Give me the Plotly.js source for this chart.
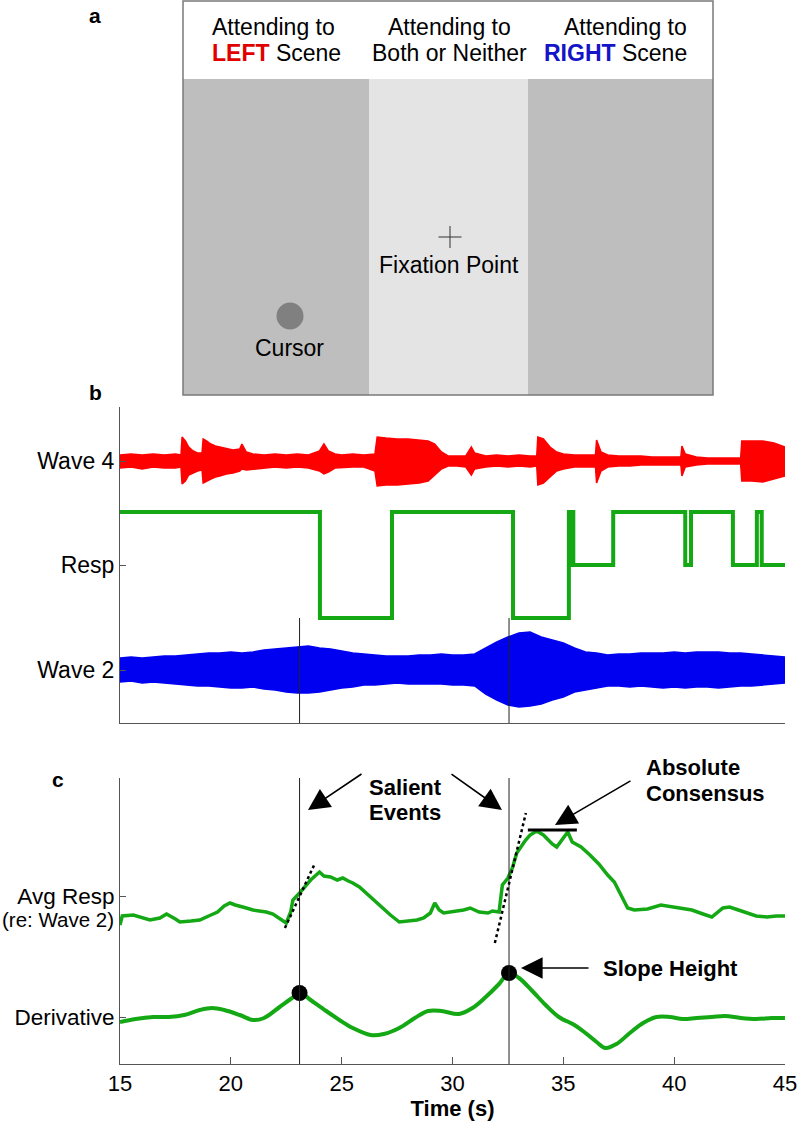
<!DOCTYPE html>
<html>
<head>
<meta charset="utf-8">
<script src="https://cdn.plot.ly/plotly-3.0.1.min.js"></script>
<style>html,body{margin:0;padding:0;background:#fff;}#chart{width:800px;height:1123px;}</style>
</head>
<body>
<div id="chart"></div>
<script>
// ---------------- DATA ----------------
// Wave 4 (red) envelope: time (s), upper and lower excursion (arbitrary units)
const wave4Time  = [15,15.5,16,16.5,17,17.5,17.75,17.8,17.95,18.1,18.3,18.5,18.7,18.75,18.9,19.1,19.3,19.5,19.8,20.1,20.4,20.5,20.7,21,21.5,22,22.5,23,23.5,24,24.2,24.4,24.7,25,25.5,26,26.5,26.6,27,27.5,28,28.5,28.9,29.2,29.5,29.8,30.2,30.6,30.85,31,31.5,32,32.5,33,33.5,33.8,33.85,34.1,34.4,34.7,35,35.5,36,36.45,36.5,36.7,37,37.5,38,38.5,39,39.5,40,40.3,40.35,40.5,41,41.5,42,42.5,43,43.05,43.5,44,44.5,45];
const wave4Upper = [6,7,6,7,6,7,6,24,20,14,10,8,8,22,20,17,15,14,12,11,12,17,9,7,6,7,6,7,6,10,17,10,7,6,7,6,7,24,23,22,22,21,20,17,9,5,5,5,14,8,5,6,5,6,5,5,24,22,14,9,7,6,6,6,21,9,6,5,5,5,4,4,4,4,15,7,4,3,3,3,3,20,20,20,18,14];
const wave4Lower = [-7,-6,-8,-6,-7,-7,-6,-23,-20,-14,-12,-10,-9,-22,-20,-18,-16,-15,-13,-12,-10,-8,-9,-8,-7,-6,-7,-6,-7,-10,-13,-11,-7,-7,-6,-6,-10,-25,-24,-24,-23,-22,-20,-14,-8,-5,-5,-6,-14,-8,-6,-5,-6,-5,-6,-5,-24,-22,-16,-10,-8,-6,-6,-6,-22,-10,-6,-5,-5,-4,-4,-4,-4,-4,-15,-6,-4,-3,-3,-3,-3,-20,-20,-21,-18,-15];

// Wave 2 (blue) envelope
const wave2Time  = [15,15.5,16,16.5,17,17.5,18,18.5,19,19.5,20,20.5,21,21.5,22,22.5,23,23.5,24,24.5,25,25.5,26,26.5,27,27.5,28,28.5,29,29.5,30,30.5,31,31.5,32,32.5,33,33.5,34,34.5,35,35.5,36,36.5,37,37.5,38,38.5,39,39.5,40,40.5,41,41.5,42,42.5,43,43.5,44,44.5,45];
const wave2Upper = [12,13,12,13,14,14,15,16,17,17,18,17,18,20,21,22,23,24,22,21,19,17,16,15,14,14,14,15,15,16,15,15,16,22,28,33,37,38,33,30,27,22,18,17,15,16,16,17,17,17,18,17,18,18,18,17,17,16,15,14,13];
const wave2Lower = [-12,-11,-13,-12,-13,-14,-15,-16,-16,-17,-18,-18,-17,-19,-20,-22,-23,-23,-22,-20,-18,-17,-15,-15,-14,-13,-14,-14,-14,-14,-15,-15,-16,-24,-30,-35,-37,-36,-34,-30,-27,-22,-20,-18,-16,-16,-17,-16,-17,-18,-17,-18,-17,-17,-18,-17,-16,-16,-15,-14,-13];

// Resp (green step): 1 = left, 0 = both/neither, -1 = right
const respTime  = [15,24.02,27.27,32.73,35.25,35.33,35.38,35.45,37.25,40.5,40.76,42.65,43.73,43.95,45];
const respLevel = [1,-1,1,-1,1,0,1,0,1,0,1,0,1,0,0];

// Avg Resp (re: Wave 2)
const avgTime  = [15,15.1,15.6,16,16.35,16.8,17.1,17.5,17.7,18.2,18.6,19,19.4,19.7,19.96,20.2,20.4,20.7,21,21.3,21.6,21.9,22.2,22.5,22.7,22.8,23.1,23.4,23.6,23.8,24,24.2,24.5,24.8,25.05,25.3,25.5,25.8,26.1,26.5,26.9,27.2,27.6,28,28.4,28.7,29,29.2,29.4,29.6,30,30.5,30.8,31.2,31.6,31.8,32.1,32.25,32.5,32.7,32.9,33.1,33.3,33.5,33.8,34.1,34.5,34.7,35,35.2,35.4,35.8,36.2,36.6,37,37.3,37.6,37.9,38.2,38.8,39.4,39.9,40.3,40.8,41.3,41.7,42.2,42.5,42.9,43.3,43.7,44.2,44.6,45];
const avgValue = [-29,-20,-19,-22,-24,-22,-18,-23,-26,-25,-24,-20,-16,-10,-7,-9,-10,-12,-14,-15,-16,-18,-22,-27,-16,-4,3,11,16,20,24,20,19,16,18,15,13,9,3,-6,-14,-19,-26,-25,-24,-22,-17,-7,-14,-17,-16,-14,-12,-16,-17,-15,-16,11,18,28,43,50,56,61,65,61,52,49,58,64,54,49,41,32,21,14,1,-12,-14,-13,-9,-11,-12,-14,-18,-21,-12,-11,-14,-17,-20,-21,-20,-20];

// Derivative
const derTime  = [15,15.7,16.5,17.2,17.9,18.6,19.15,19.7,20.4,21,21.5,22.2,22.7,23.15,23.6,24.3,24.9,25.5,26.3,26.9,27.6,28.3,28.9,29.5,30.3,30.9,31.5,32.1,32.55,33,33.6,34.2,34.8,35.5,36,36.5,36.9,37.4,38,38.6,39.2,39.8,40.4,41,41.7,42.3,43,43.7,44.4,45];
const derValue = [-5,-2,0,0,2,7,9,7,2,-3,-1,10,18,24,17,6,-3,-11,-18,-17,-11,-1,6,6,3,9,20,33,44,39,26,12,0,-8,-16,-25,-31,-27,-16,-6,0,0,-2,-1,0,1,-1,-2,-1,-1];

// Salient events and slope heights
const eventTime   = [23.1, 32.55];
const slopeHeight = [24, 44];
// Tangent (slope) segments on Avg Resp: [t0, v0, t1, v1]
const tangents = [[22.44,-32,23.8,33],[31.91,-47,33.31,83]];
// Absolute consensus plateau
const consensus = {t0:33.4, t1:35.61, v:66};

// Tick labels
const panelBTicks = ['Wave 4','Resp','Wave 2'];
const panelCTicks = ['Avg Resp','Derivative'];
const timeTicks = [15,20,25,30,35,40,45];

// ---------------- LAYOUT HELPERS ----------------
const W = 800, H = 1123;
const px = x => x / W;
const py = y => 1 - y / H;
const F = 'Liberation Sans, Arial, Helvetica, sans-serif';
const GREEN = '#14a814', RED = '#ff0000', BLUE = '#0000f0';

// vertical placement inside panels (axis units)
const W4_C = 262, RESP_C = 158, RESP_S = 53, W2_C = 53;
const AVG_C = 168, DER_C = 47;

const poly = (t, up, lo, c) => ({
  x: t.concat(t.slice().reverse()),
  y: up.map(v => c + v).concat(lo.slice().reverse().map(v => c + v))
});

const w4 = poly(wave4Time, wave4Upper, wave4Lower, W4_C);
const w2 = poly(wave2Time, wave2Upper, wave2Lower, W2_C);

const traces = [
  {x: w4.x, y: w4.y, xaxis:'x', yaxis:'y', type:'scatter', mode:'lines', fill:'toself',
   fillcolor: RED, line:{color:RED, width:1.5}, hoverinfo:'skip'},
  {x: w2.x, y: w2.y, xaxis:'x', yaxis:'y', type:'scatter', mode:'lines', fill:'toself',
   fillcolor: BLUE, line:{color:BLUE, width:1.5}, hoverinfo:'skip'},
  {x: respTime, y: respLevel.map(v => RESP_C + v * RESP_S), xaxis:'x', yaxis:'y', type:'scatter',
   mode:'lines', line:{color:GREEN, width:4, shape:'hv'}},
  {x: avgTime, y: avgValue.map(v => AVG_C + v), xaxis:'x2', yaxis:'y2', type:'scatter',
   mode:'lines', line:{color:GREEN, width:3.5}},
  {x: derTime, y: derValue.map(v => DER_C + v), xaxis:'x2', yaxis:'y2', type:'scatter',
   mode:'lines', line:{color:GREEN, width:4, shape:'spline', smoothing:1}},
  {x: eventTime, y: slopeHeight.map(v => DER_C + v), xaxis:'x2', yaxis:'y2', type:'scatter',
   mode:'markers', marker:{color:'#000', size:16}}
];

const shapes = [];
// ---- Panel a schematic ----
shapes.push({type:'rect', xref:'paper', yref:'paper', x0:px(183), x1:px(369), y0:py(395), y1:py(79), fillcolor:'#bebebe', line:{width:0}, layer:'below'});
shapes.push({type:'rect', xref:'paper', yref:'paper', x0:px(369), x1:px(528), y0:py(395), y1:py(79), fillcolor:'#e4e4e4', line:{width:0}, layer:'below'});
shapes.push({type:'rect', xref:'paper', yref:'paper', x0:px(528), x1:px(713), y0:py(395), y1:py(79), fillcolor:'#bebebe', line:{width:0}, layer:'below'});
shapes.push({type:'rect', xref:'paper', yref:'paper', x0:px(183), x1:px(713), y0:py(395), y1:py(1), line:{color:'#7a7a7a', width:1.5}});
shapes.push({type:'line', xref:'paper', yref:'paper', x0:px(438.5), x1:px(461.5), y0:py(237), y1:py(237), line:{color:'#333', width:1}});
shapes.push({type:'line', xref:'paper', yref:'paper', x0:px(450), x1:px(450), y0:py(226), y1:py(248), line:{color:'#333', width:1}});
shapes.push({type:'circle', xref:'paper', yref:'paper', x0:px(276.5), x1:px(303.5), y0:py(329.5), y1:py(302.5), fillcolor:'#808080', line:{width:0}});
// ---- event lines ----
eventTime.forEach(t => {
  shapes.push({type:'line', xref:'x', yref:'y', x0:t, x1:t, y0:0, y1:RESP_C - RESP_S, line:{color:'#222', width:1}});
  shapes.push({type:'line', xref:'x2', yref:'y2', x0:t, x1:t, y0:0, y1:286, line:{color:'#222', width:1}});
});
// ---- tangents ----
tangents.forEach(s => {
  shapes.push({type:'line', xref:'x2', yref:'y2', x0:s[0], y0:AVG_C + s[1], x1:s[2], y1:AVG_C + s[3], line:{color:'#000', width:2.5, dash:'dot'}});
});
// ---- absolute consensus ----
shapes.push({type:'line', xref:'x2', yref:'y2', x0:consensus.t0, x1:consensus.t1, y0:AVG_C + consensus.v, y1:AVG_C + consensus.v, line:{color:'#000', width:3}});

const txt = (x, y, text, o) => Object.assign({xref:'paper', yref:'paper', x:px(x), y:py(y), text:text,
  showarrow:false, xanchor:'center', yanchor:'middle', font:{family:F, size:23, color:'#000'}}, o || {});
const arrow = (tx, ty, sx, sy) => ({xref:'paper', yref:'paper', x:px(tx), y:py(ty), ax:sx - tx, ay:sy - ty,
  axref:'pixel', ayref:'pixel', text:'', showarrow:true, arrowhead:2, arrowsize:2.7, arrowwidth:1.6, arrowcolor:'#000'});

const annotations = [
  txt(95, 15, '<b>a</b>', {font:{family:F, size:21, color:'#000'}}),
  txt(95, 393, '<b>b</b>', {font:{family:F, size:21, color:'#000'}}),
  txt(58, 779, '<b>c</b>', {font:{family:F, size:21, color:'#000'}}),
  txt(210, 27, 'Attending to', {xanchor:'left'}),
  txt(210, 53, '<span style="color:#e00000"><b>LEFT</b></span> Scene', {xanchor:'left'}),
  txt(449, 27, 'Attending to'),
  txt(449, 53, 'Both or Neither'),
  txt(689, 27, 'Attending to', {xanchor:'right'}),
  txt(689, 53, '<span style="color:#1414c8"><b>RIGHT</b></span> Scene', {xanchor:'right'}),
  txt(449, 265, 'Fixation Point'),
  txt(289, 348, 'Cursor'),
  txt(116, 919, '(re: Wave 2)', {xanchor:'right', font:{family:F, size:20.5, color:'#000'}}),
  txt(405, 787, '<b>Salient</b>', {font:{family:F, size:22, color:'#000'}}),
  txt(405, 812, '<b>Events</b>', {font:{family:F, size:22, color:'#000'}}),
  txt(644, 767, '<b>Absolute</b>', {xanchor:'left', font:{family:F, size:22, color:'#000'}}),
  txt(644, 793, '<b>Consensus</b>', {xanchor:'left', font:{family:F, size:22, color:'#000'}}),
  txt(601, 968, '<b>Slope Height</b>', {xanchor:'left', font:{family:F, size:22, color:'#000'}}),
  arrow(308, 810, 363, 773),
  arrow(502, 810, 450, 773),
  arrow(555, 825, 632, 780),
  arrow(521, 968, 590, 968)
];

const axisCommon = {showgrid:false, zeroline:false, showline:true, linecolor:'#555', linewidth:1,
  tickcolor:'#555', tickfont:{family:F, size:22, color:'#000'}, fixedrange:true};

const layout = {
  width: W, height: H,
  margin: {l:0, r:0, t:0, b:0},
  paper_bgcolor:'#fff', plot_bgcolor:'rgba(0,0,0,0)',
  showlegend:false,
  font:{family:F, color:'#000'},
  xaxis: Object.assign({}, axisCommon, {domain:[px(120), px(785)], range:[15,45], anchor:'y',
    ticks:'', showticklabels:false}),
  yaxis: Object.assign({}, axisCommon, {domain:[py(723), py(407)], range:[0,316], anchor:'x',
    tickmode:'array', tickvals:[W4_C, RESP_C, W2_C], ticktext:panelBTicks, ticks:'inside', ticklen:6,
    tickfont:{family:F, size:23, color:'#000'}}),
  xaxis2: Object.assign({}, axisCommon, {domain:[px(120), px(785)], range:[15,45], anchor:'y2',
    tickmode:'array', tickvals:timeTicks, ticktext:timeTicks.map(String), ticks:'inside', ticklen:7,
    title:{text:'<b>Time (s)</b>', font:{family:F, size:22, color:'#000'}, standoff:1}}),
  yaxis2: Object.assign({}, axisCommon, {domain:[py(1064), py(778)], range:[0,286], anchor:'x2',
    tickmode:'array', tickvals:[AVG_C, DER_C], ticktext:panelCTicks, ticks:'inside', ticklen:6,
    tickfont:{family:F, size:22.5, color:'#000'}}),
  shapes: shapes,
  annotations: annotations
};

Plotly.newPlot('chart', traces, layout, {staticPlot:true, displayModeBar:false});
</script>
</body>
</html>
